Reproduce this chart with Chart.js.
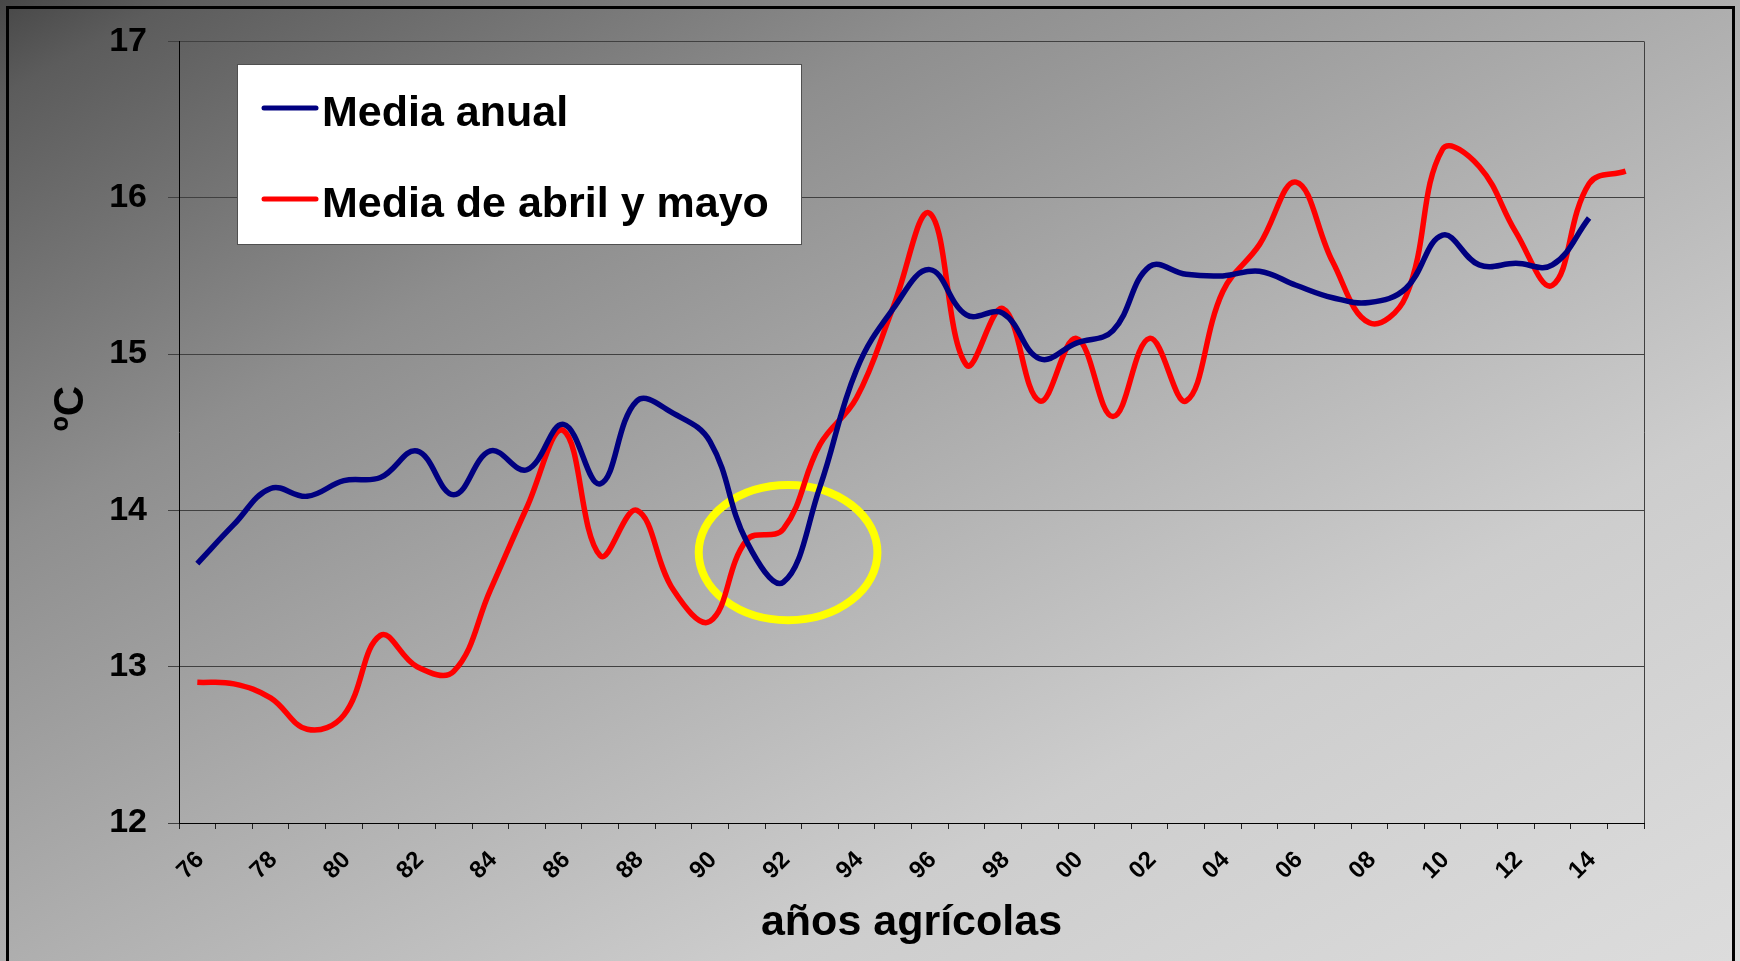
<!DOCTYPE html>
<html>
<head>
<meta charset="utf-8">
<title>Temperatura media - años agrícolas</title>
<script src="https://cdn.jsdelivr.net/npm/chart.js@4.4.1/dist/chart.umd.min.js"></script>
<style>
  html, body { margin: 0; padding: 0; }
  #page {
    position: relative; width: 1740px; height: 961px; overflow: hidden;
    background: linear-gradient(to bottom right, #474747 0%, #5c5c5c 5%, #8e8e8e 28%, #aeaeae 50%, #cdcdcd 72%, #d9d9d9 93%, #dcdcdc 100%);
  }
  #frame {
    position: absolute; left: 6px; top: 6px; width: 1723px; height: 1100px;
    border: 3px solid #000; pointer-events: none;
  }
  #chart { position: absolute; left: 0; top: 0; }
</style>
</head>
<body>
<div id="page">
  <canvas id="chart" width="1740" height="961"></canvas>
  <div id="frame"></div>
</div>
<script>
/* =========================================
   DATA
========================================= */
const years = [
  "76", "77", "78", "79", "80", "81", "82", "83", "84", "85",
  "86", "87", "88", "89", "90", "91", "92", "93", "94", "95",
  "96", "97", "98", "99", "00", "01", "02", "03", "04", "05",
  "06", "07", "08", "09", "10", "11", "12", "13", "14", "15"
];

// Media anual (ºC)
const mediaAnual = [
  13.66, 13.91, 14.14, 14.09, 14.19, 14.21, 14.38, 14.10, 14.38, 14.26,
  14.55, 14.17, 14.70, 14.62, 14.44, 13.80, 13.54, 14.15, 14.90, 15.29,
  15.54, 15.25, 15.26, 14.97, 15.07, 15.15, 15.56, 15.51, 15.50, 15.53,
  15.44, 15.36, 15.33, 15.42, 15.76, 15.57, 15.58, 15.57, 15.87, null
];

// Media de abril y mayo (ºC)
const mediaAbrilMayo = [
  12.90, 12.89, 12.80, 12.60, 12.69, 13.20, 13.00, 12.97, 13.49, 14.02,
  14.51, 13.71, 14.00, 13.49, 13.29, 13.81, 13.88, 14.42, 14.72, 15.30,
  15.90, 14.93, 15.29, 14.70, 15.10, 14.60, 15.10, 14.70, 15.40, 15.70,
  16.10, 15.59, 15.20, 15.37, 16.31, 16.20, 15.78, 15.44, 16.09, 16.17
];

const yTicks = [12, 13, 14, 15, 16, 17];

// circled period (category index, ºC) and its half size
const circleCenter = [16.13, 13.73];
const circleHalf = [2.44, 0.433];

const FONT = "'Liberation Sans', Arial, sans-serif";
Chart.defaults.font.family = FONT;

/* =========================================
   PLUGINS
========================================= */
// right border of the plot area
const plotFrame = {
  id: "plotFrame",
  beforeDatasetsDraw(chart) {
    const { ctx, chartArea } = chart;
    ctx.save();
    ctx.strokeStyle = "#404040";
    ctx.lineWidth = 1;
    ctx.beginPath();
    ctx.moveTo(Math.round(chartArea.right) + 0.5, chartArea.top);
    ctx.lineTo(Math.round(chartArea.right) + 0.5, chartArea.bottom);
    ctx.stroke();
    ctx.restore();
  }
};

// yellow ellipse round the 91-93 dip
const circleMark = {
  id: "circleMark",
  beforeDatasetsDraw(chart) {
    const { ctx, scales } = chart;
    const cx = scales.x.getPixelForValue(circleCenter[0]);
    const cy = scales.y.getPixelForValue(circleCenter[1]);
    const rx = scales.x.getPixelForValue(circleCenter[0] + circleHalf[0]) - cx;
    const ry = cy - scales.y.getPixelForValue(circleCenter[1] + circleHalf[1]);
    ctx.save();
    ctx.strokeStyle = "#ffff00";
    ctx.lineWidth = 8;
    ctx.beginPath();
    ctx.ellipse(cx, cy, rx, ry, 0, 0, Math.PI * 2);
    ctx.stroke();
    ctx.restore();
  }
};

// legend box inside the plot + rotated y title
const boxLegend = {
  id: "boxLegend",
  afterDraw(chart) {
    const { ctx, chartArea } = chart;
    ctx.save();
    ctx.fillStyle = "#ffffff";
    ctx.fillRect(237, 64, 564, 180);
    ctx.strokeStyle = "#505050";
    ctx.lineWidth = 1;
    ctx.strokeRect(237.5, 64.5, 564, 180);

    const rows = [108, 199];
    chart.data.datasets.forEach((ds, i) => {
      ctx.strokeStyle = ds.borderColor;
      ctx.lineWidth = 5;
      ctx.lineCap = "round";
      ctx.beginPath();
      ctx.moveTo(264, rows[i]);
      ctx.lineTo(316, rows[i]);
      ctx.stroke();
      ctx.fillStyle = "#000";
      ctx.font = "bold 43px " + FONT;
      ctx.textAlign = "left";
      ctx.textBaseline = "alphabetic";
      ctx.fillText(ds.label, 322, rows[i] + 18);
    });

    // y axis title
    ctx.translate(71, chartArea.top + (chartArea.bottom - chartArea.top) * 0.47);
    ctx.rotate(-Math.PI / 2);
    ctx.fillStyle = "#000";
    ctx.font = "bold 42px " + FONT;
    ctx.textAlign = "center";
    ctx.textBaseline = "middle";
    ctx.fillText("ºC", 0, 0);
    ctx.restore();
  }
};

/* =========================================
   CHART
========================================= */
new Chart(document.getElementById("chart"), {
  type: "line",
  data: {
    labels: years,
    datasets: [
      {
        label: "Media anual",
        data: mediaAnual,
        borderColor: "#000080",
        borderWidth: 5.5,
        pointRadius: 0,
        tension: 0.4,
        fill: false
      },
      {
        label: "Media de abril y mayo",
        data: mediaAbrilMayo,
        borderColor: "#ff0000",
        borderWidth: 5.5,
        pointRadius: 0,
        tension: 0.4,
        fill: false
      }
    ]
  },
  options: {
    responsive: false,
    animation: false,
    layout: { padding: { top: 38, right: 96, left: 0, bottom: 0 } },
    plugins: {
      legend: { display: false },
      tooltip: { enabled: false }
    },
    scales: {
      x: {
        type: "category",
        offset: true,
        afterFit: (s) => { s.height = 138; },
        grid: {
          offset: true,
          drawOnChartArea: false,
          tickLength: 6,
          color: "#202020"
        },
        border: { color: "#000", width: 1 },
        ticks: {
          autoSkip: false,
          minRotation: 45,
          maxRotation: 45,
          labelOffset: 3,
          padding: 17,
          color: "#000",
          font: { size: 24, weight: "bold" },
          callback: (v, i) => (i % 2 === 0 ? years[i] : "")
        },
        title: {
          display: true,
          text: "años agrícolas",
          color: "#000",
          font: { size: 43, weight: "bold", lineHeight: 1.2 },
          padding: { top: 0, bottom: 12 }
        }
      },
      y: {
        min: yTicks[0],
        max: yTicks[yTicks.length - 1],
        afterFit: (s) => { s.width = 179; },
        grid: {
          color: "#404040",
          tickLength: 11,
          lineWidth: 1
        },
        border: { color: "#000", width: 1 },
        ticks: {
          stepSize: 1,
          padding: 21,
          color: "#000",
          font: { size: 34, weight: "bold" }
        }
      }
    }
  },
  plugins: [plotFrame, circleMark, boxLegend]
});
</script>
</body>
</html>
